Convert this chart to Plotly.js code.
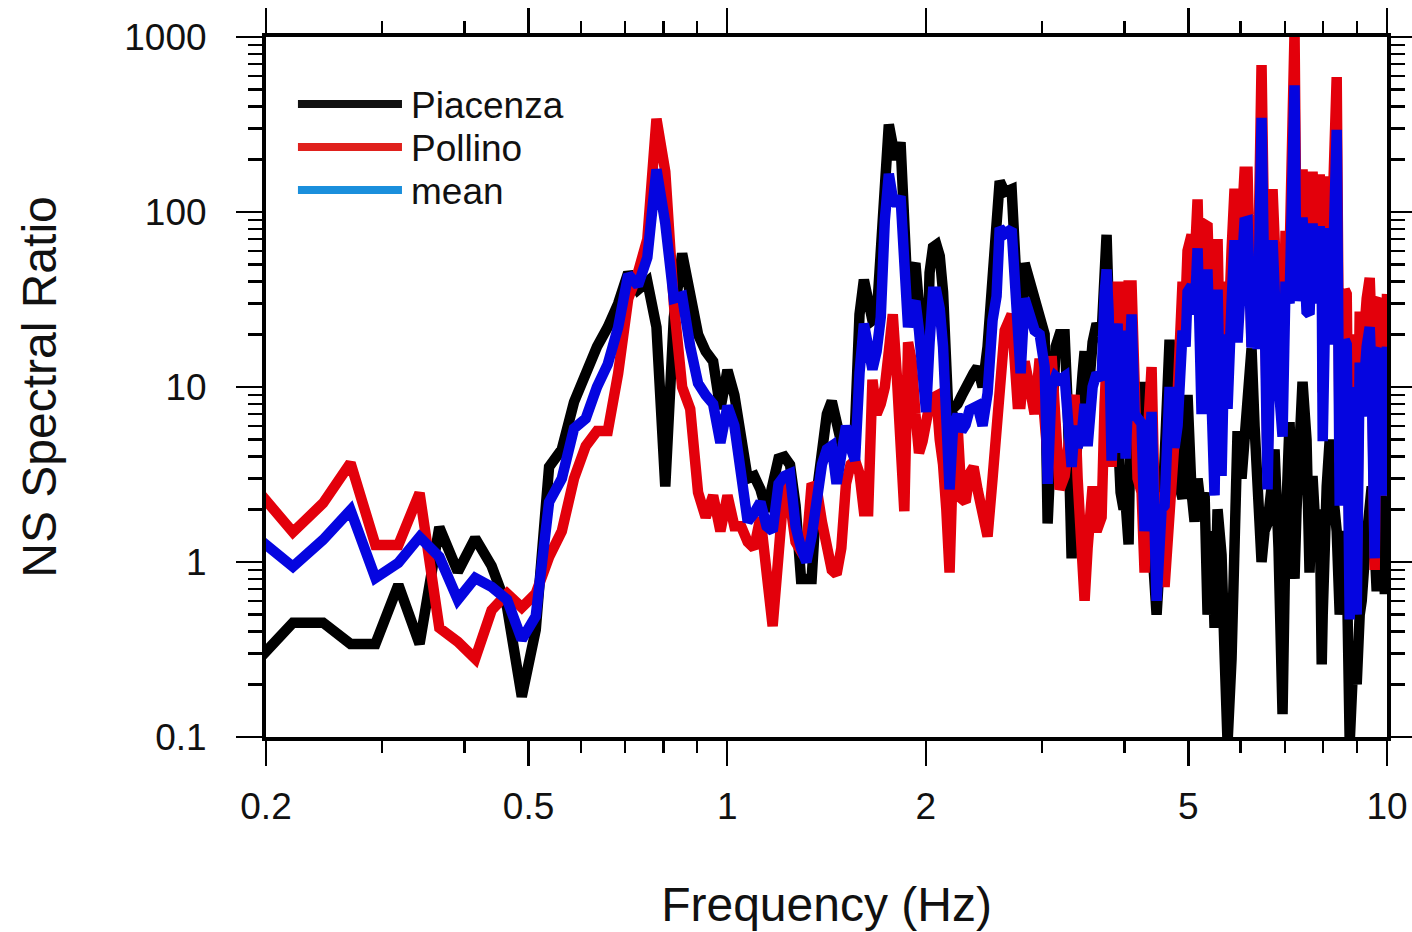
<!DOCTYPE html>
<html><head><meta charset="utf-8">
<script src="https://cdn.plot.ly/plotly-3.0.1.min.js"></script>
<style>html,body{margin:0;padding:0;background:#fff}#chart{width:1412px;height:932px}</style>
</head><body><div id="chart"></div>
<script>
// Frequency samples (Hz)
const freqHz = [0.1953,0.2197,0.2441,0.2686,0.2930,0.3174,0.3418,0.3662,0.3906,0.4150,
0.4395,0.4639,0.4883,0.5127,0.5371,0.5615,0.5859,0.6104,0.6348,0.6592,
0.6836,0.7080,0.7324,0.7568,0.7813,0.8057,0.8301,0.8545,0.8789,0.9033,
0.9277,0.9521,0.9766,1.0010,1.0254,1.0498,1.0742,1.0986,1.1230,1.1475,
1.1719,1.1963,1.2207,1.2451,1.2695,1.2939,1.3184,1.3428,1.3672,1.3916,
1.4160,1.4404,1.4648,1.4893,1.5137,1.5381,1.5625,1.5869,1.6113,1.6357,
1.6602,1.6846,1.7090,1.7334,1.7578,1.7822,1.8066,1.8311,1.8555,1.8799,
1.9043,1.9287,1.9531,1.9775,2.0020,2.0264,2.0508,2.0752,2.0996,2.1240,
2.1484,2.1729,2.1973,
2.2345,2.2659,2.2979,2.3301,2.3627,2.3956,2.4380,2.4809,2.5246,2.5601,
2.5882,2.6338,2.6984,2.7554,2.7844,2.8235,2.8732,2.9238,2.9752,3.0276,
3.0594,3.1024,3.1461,3.1902,3.2463,3.2805,3.3266,3.3616,3.3970,3.4566,
3.4809,3.5175,3.5794,3.6297,3.6936,3.7325,3.7585,3.7849,3.8247,3.8649,
3.9056,3.9468,3.9881,4.0164,4.0584,4.1011,4.1443,4.1878,4.2467,4.2914,
4.3365,4.3975,4.4748,4.5536,4.6015,4.6825,4.7649,4.8150,4.8996,4.9515,
4.9855,5.0560,5.1093,5.1630,5.2354,5.2905,5.3461,5.4214,5.4785,5.5361,
5.6138,5.6729,5.7326,5.8131,5.8743,5.9361,6.0195,6.0829,6.1469,6.2332,
6.2988,6.3651,6.4546,6.5225,6.5911,6.7070,6.7541,6.8484,6.9451,7.0186,
7.1169,7.1916,7.2422,7.2927,7.4470,7.5516,7.6313,7.7114,7.8198,7.9072,
7.9625,7.9902,8.1025,8.1878,8.2738,8.3900,8.4785,8.6277,8.6879,8.7795,
8.9024,8.9964,9.0912,9.1548,9.2512,9.3157,9.4140,9.4799,9.5797,9.6465,
9.7480,9.8162,9.9196,10.0];

// NS spectral ratio, Piacenza
const piacenza = [0.28,0.45,0.45,0.34,0.34,0.74,0.34,1.58,0.88,1.37,
0.95,0.55,0.17,0.41,3.5,4.4,8.2,12,17,22,
30,45,36,40,22,2.7,25,58,35,20,
16,14,7.5,12.5,9,5.5,3.0,3.1,2.6,1.95,
2.6,3.9,4.0,3.6,2.1,0.8,0.8,0.8,2.5,5,
7,8.3,6,4.8,4.8,5.2,6,26,41,30,
24,25,60,174,316,240,200,250,80,30,
45,51,29,16,8,45,63,65,56,35,
16,5,7.5,
8,8.9,10,11.5,12,13,10,17,45,60,
150,130,135,30,16,51,40,35,26,20,
1.66,5,17,20,20,8,1.05,3,6,12,
16,8,18,23,20,60,74,30,4,4,
6,2.5,2,2.2,1.26,14,8,10,10,2,
2.5,1.4,0.5,1.5,3.5,18.6,5,3,2.3,4,
9,2.5,1.7,3,1.9,2.5,0.5,1.5,0.42,2,
1.1,0.3,0.093,0.28,2,5.6,3,6,8,16.6,
6,3.1,1,1.5,1.66,3,4.4,1.2,0.135,1.5,
6.3,2,0.8,2,10.7,5,0.87,3.1,1.2,2,
0.26,0.5,2.7,5,2.6,1.5,0.5,1.5,1,0.093,
0.3,0.2,0.5,0.6,1.05,1.5,2.7,2.7,1.2,0.68,
1.5,2.4,0.7,0.7];

// NS spectral ratio, Pollino
const pollino = [2.5,1.48,2.17,3.68,1.25,1.25,2.48,0.42,0.35,0.28,
0.53,0.66,0.55,0.66,1.07,1.5,3.0,4.6,5.6,5.6,
12,32,45,70,340,170,30,10,7.5,2.5,
1.8,2.4,1.5,2.4,1.6,1.6,1.3,1.2,1.8,0.9,
0.43,1.1,2.8,2.2,1.3,1.15,1.2,2.8,2.6,1.7,
1.3,0.9,0.85,1.2,2.8,3.6,3.8,3.2,1.95,1.95,
11,7,8,10,16,26,12,5,1.95,18,
14,7,4.2,4.9,6.9,8,8.7,8.9,5,3.6,
2,0.87,3.5,
6,2.3,2.2,3.2,3.5,2.6,2.0,1.4,3,6,
12,21,26,8,8,14,10,7,14.5,5.9,
4,15,6,2.6,3.1,4,6,9,3,1.0,
0.6,1.2,2.7,1.5,1.8,8,20,25,3.5,30,
40,6,40,5.6,38,38,6,3,2.5,0.87,
5,13,0.7,2.5,0.72,2,4,9,40,30,
60,74,50,118,12,85,83,20,4.4,70,
5,40,15,60,136,30,100,170,170,17,
60,30,690,40,3.5,135,60,20,10,78,
55,300,1060,60,175,50,52,170,60,164,
90,9.3,160,30,80,590,3.7,36,34,0.85,
20,0.8,27,13,30,32,42,20,0.9,30,
32,2.4,10,34];

// NS spectral ratio, mean
const meanRatio = [1.35,0.94,1.34,1.98,0.81,0.99,1.39,1.07,0.61,0.81,
0.72,0.61,0.36,0.49,2.2,3.0,5.8,6.6,10,13.5,
22,44,38,55,175,86,32,33,17,10.5,
9,8,4.8,7.8,6,3.3,1.7,1.9,2.2,1.6,
1.5,2.8,3.1,3.2,1.6,1.2,1.0,1.4,2.2,3.6,
4.4,4.6,2.8,4.5,6,4.5,3.8,12,23,17,
12.6,16,25,90,165,120,110,123,40,22,
28,31,21,12,7.2,18,35,35,28,17,
7.2,2.6,5.5,
7,5.6,6.1,7.4,7.7,7.8,6.0,9.2,24,33,
81,75,80,19,12,32,25,21,20,13,
2.8,10,11.5,11,11.5,6,3.5,6,4.5,6,
8,4.6,10,12,11,34,47,27,3.8,17,
23,4.2,21,3.9,20,26,7,6.5,6.2,1.5,
3.7,7.2,0.6,2,2.1,10,4.5,6,21,17,
35,38,26,62,7,44,44,11,2.4,36,
3.1,20,7.5,30,69,18,52,88,89,16.8,
33,16.5,345,21,2.6,69,32,10.6,5.2,40,
30,150,530,31,93,27,26,86,30,83,
45,4.9,81,17.5,41,295,2.1,18.6,17.5,0.47,
10,0.5,13.8,6.8,15.5,17,22,11,1.05,15.3,
16.6,2.4,5.3,17];

const seriesNames = ['Piacenza', 'Pollino', 'mean'];
const seriesColors = ['#000000', '#e3000b', '#0505e0'];
const legendColors = ['#111111', '#e0211d', '#1a8fdc'];

const xTickVals = [0.2, 0.5, 1, 2, 5, 10];
const xTickText = ['0.2', '0.5', '1', '2', '5', '10'];
const xMinorVals = [0.3, 0.4, 0.6, 0.7, 0.8, 0.9, 3, 4, 6, 7, 8, 9];
const yTickVals = [0.1, 1, 10, 100, 1000];
const yTickText = ['0.1', '1', '10', '100', '1000'];
const yMinorVals = [0.2,0.3,0.4,0.5,0.6,0.7,0.8,0.9,2,3,4,5,6,7,8,9,20,30,40,50,60,70,80,90,200,300,400,500,600,700,800,900];

const FONT = 'Liberation Sans, Arial, Helvetica, sans-serif';
const seriesValues = [piacenza, pollino, meanRatio];

const traces = seriesValues.map((vals, i) => ({
  type: 'scatter', mode: 'lines', name: seriesNames[i],
  x: freqHz, y: vals,
  line: {color: seriesColors[i], width: 10.5},
  showlegend: false, hoverinfo: 'skip'
}));

// legend drawn inside the plot (long rounded sample lines like the original)
const legendRowsY = [0.9043, 0.8429, 0.7814];
const legendShapes = seriesNames.map((n, i) => ({
  type: 'line', xref: 'paper', yref: 'paper',
  x0: 0.0285, x1: 0.1213, y0: legendRowsY[i], y1: legendRowsY[i],
  line: {color: legendColors[i], width: 8}
}));
const legendTexts = seriesNames.map((n, i) => ({
  xref: 'paper', yref: 'paper', x: 0.128, y: legendRowsY[i] - 0.002,
  xanchor: 'left', yanchor: 'middle', showarrow: false,
  text: n, font: {family: FONT, size: 37, color: '#111'}
}));

const axisCommon = {
  type: 'log', showgrid: false, zeroline: false,
  showline: true, linecolor: '#000', linewidth: 4, mirror: 'allticks',
  ticks: 'outside', tickcolor: '#000', tickwidth: 2.5,
  tickmode: 'array',
  tickfont: {family: FONT, size: 37, color: '#111'}
};

const layout = {
  width: 1412, height: 932,
  margin: {l: 266, r: 25, t: 37, b: 195},
  paper_bgcolor: '#fff', plot_bgcolor: '#fff',
  font: {family: FONT, color: '#111'},
  xaxis: Object.assign({}, axisCommon, {
    range: [Math.log10(0.2), 1],
    tickvals: xTickVals, ticktext: xTickText, ticklen: 25,
    ticklabelstandoff: 9,
    minor: {tickmode: 'array', tickvals: xMinorVals, ticks: 'outside', ticklen: 12, tickwidth: 2.5, tickcolor: '#000', showgrid: false},
    title: {text: 'Frequency (Hz)', font: {family: FONT, size: 48, color: '#111'}, standoff: 62}
  }),
  yaxis: Object.assign({}, axisCommon, {
    range: [-1, 3],
    tickvals: yTickVals, ticktext: yTickText, ticklen: 26,
    ticklabelstandoff: 22,
    minor: {tickmode: 'array', tickvals: yMinorVals, ticks: 'outside', ticklen: 14, tickwidth: 2.5, tickcolor: '#000', showgrid: false},
    title: {text: 'NS Spectral Ratio', font: {family: FONT, size: 48, color: '#111'}, standoff: 53}
  }),
  shapes: legendShapes,
  annotations: legendTexts,
  showlegend: false
};

Plotly.newPlot('chart', traces, layout, {staticPlot: true, displayModeBar: false});
</script>
</body></html>
